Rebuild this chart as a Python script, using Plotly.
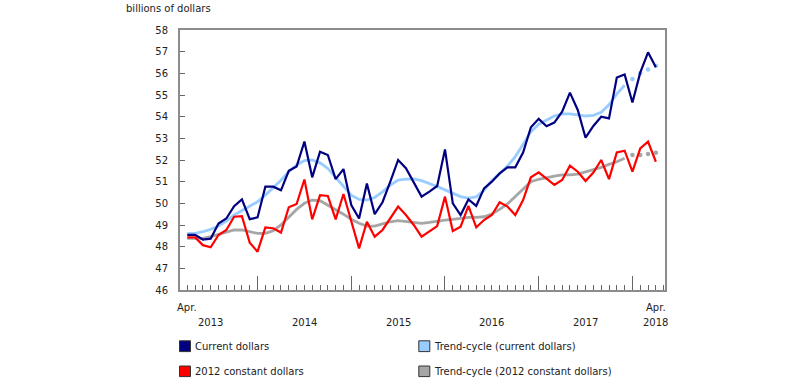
import plotly.graph_objects as go

# ---- data (monthly, Apr 2013 .. Apr 2018) ----
months = [f"{2013 + (m + 3) // 12}-{(m + 3) % 12 + 1:02d}" for m in range(61)]

current = [48.54, 48.55, 48.33, 48.37, 49.07, 49.30, 49.87, 50.18, 49.27, 49.35,
           50.77, 50.77, 50.60, 51.50, 51.70, 52.85, 51.20, 52.38, 52.23, 51.12,
           51.58, 49.92, 49.30, 50.92, 49.50, 50.05, 51.00, 52.00, 51.62, 50.95,
           50.31, 50.54, 50.80, 52.49, 50.00, 49.46, 50.18, 49.88, 50.69, 51.00,
           51.38, 51.66, 51.66, 52.34, 53.51, 53.90, 53.56, 53.73, 54.23, 55.11,
           54.31, 53.03, 53.57, 54.00, 53.92, 55.81, 55.95, 54.65, 56.03, 56.97, 56.28]

constant = [48.43, 48.43, 48.07, 47.97, 48.54, 48.77, 49.38, 49.41, 48.18, 47.77,
            48.89, 48.85, 48.65, 49.82, 49.97, 51.10, 49.26, 50.38, 50.34, 49.26,
            50.43, 49.15, 47.92, 49.15, 48.46, 48.77, 49.30, 49.85, 49.46, 49.00,
            48.46, 48.70, 48.95, 50.31, 48.72, 48.92, 49.88, 48.89, 49.23, 49.46,
            50.05, 49.85, 49.46, 50.15, 51.20, 51.43, 51.15, 50.85, 51.08, 51.74,
            51.46, 51.03, 51.42, 52.00, 51.12, 52.35, 52.43, 51.46, 52.54, 52.85, 51.92]

trend_current = [48.61, 48.61, 48.69, 48.80, 48.95, 49.18, 49.46, 49.66, 49.85, 50.07,
                 50.38, 50.72, 51.07, 51.46, 51.77, 51.97, 52.00, 51.87, 51.61, 51.20,
                 50.77, 50.38, 50.18, 50.15, 50.27, 50.53, 50.84, 51.07, 51.12, 51.13,
                 51.05, 50.92, 50.78, 50.62, 50.45, 50.31, 50.24, 50.30, 50.60, 51.05,
                 51.38, 51.72, 52.15, 52.75, 53.30, 53.65, 53.85, 54.03, 54.13, 54.13,
                 54.08, 54.03, 54.06, 54.20, 54.55, 55.05, 55.45, 55.74, 56.00, 56.18, 56.35]

trend_constant = [48.38, 48.37, 48.38, 48.46, 48.57, 48.69, 48.77, 48.77, 48.69, 48.61,
                  48.61, 48.74, 49.00, 49.38, 49.72, 50.00, 50.15, 50.12, 49.92, 49.69,
                  49.50, 49.26, 49.08, 48.95, 48.95, 49.05, 49.15, 49.20, 49.15, 49.10,
                  49.08, 49.12, 49.18, 49.22, 49.26, 49.31, 49.35, 49.35, 49.38, 49.51,
                  49.72, 49.97, 50.31, 50.69, 51.00, 51.11, 51.20, 51.26, 51.31, 51.31,
                  51.35, 51.46, 51.54, 51.66, 51.80, 51.92, 52.08, 52.23, 52.23, 52.28, 52.34]

n_final = 57          # trend-cycle points from here on are shown dotted
year_labels = ["2013", "2014", "2015", "2016", "2017", "2018"]
year_pos = [3, 15, 27, 39, 51, 60]
jan_idx = [9, 21, 33, 45, 57]

series_names = ["Current dollars", "Trend-cycle (current dollars)",
                "2012 constant dollars", "Trend-cycle (2012 constant dollars)"]

C_NAVY = "#000080"
C_RED = "#FF0000"
C_LBLUE = "#99CCFF"
C_GREY = "#A6A6A6"
FONT = "DejaVu Sans"
TXT = "#222222"

x = list(range(len(months)))

fig = go.Figure()
# trend-cycle (solid part + dotted tail)
fig.add_trace(go.Scatter(x=x[:n_final], y=trend_constant[:n_final], mode="lines",
                         line=dict(color=C_GREY, width=2.8), showlegend=False))
fig.add_trace(go.Scatter(x=x[n_final:], y=trend_constant[n_final:], mode="markers",
                         marker=dict(color=C_GREY, size=4.5), showlegend=False))
fig.add_trace(go.Scatter(x=x[:n_final], y=trend_current[:n_final], mode="lines",
                         line=dict(color=C_LBLUE, width=2.8), showlegend=False))
fig.add_trace(go.Scatter(x=x[n_final:], y=trend_current[n_final:], mode="markers",
                         marker=dict(color=C_LBLUE, size=4.5), showlegend=False))
fig.add_trace(go.Scatter(x=x, y=constant, mode="lines",
                         line=dict(color=C_RED, width=2.2), showlegend=False))
fig.add_trace(go.Scatter(x=x, y=current, mode="lines",
                         line=dict(color=C_NAVY, width=2.2), showlegend=False))

# plot area in pixels: left 180, right 665, top 30, bottom 290
L, R, T, B = 180, 665, 30, 290
def px(xp):
    return (xp - L) / (R - L)
def py(yp):
    return (B - yp) / (B - T)

annotations = []
# x labels
for xi in (0, 60):
    annotations.append(dict(x=xi, y=py(307), xref="x", yref="paper", text="Apr.",
                            showarrow=False, xanchor="center", yanchor="middle",
                            font=dict(family=FONT, size=10, color=TXT)))
for lab, pos in zip(year_labels, year_pos):
    annotations.append(dict(x=pos, y=py(322), xref="x", yref="paper", text=lab,
                            showarrow=False, xanchor="center", yanchor="middle",
                            font=dict(family=FONT, size=10, color=TXT)))
# y title
annotations.append(dict(x=px(124), y=py(8), xref="paper", yref="paper",
                        text="billions of dollars", showarrow=False,
                        xanchor="left", yanchor="middle",
                        font=dict(family=FONT, size=10, color=TXT)))

# legend (manual, 2 x 2)
legend_cols = [C_NAVY, C_LBLUE, C_RED, C_GREY]
sw_x = [(179.5, 190.5), (418.8, 429.8)]
sw_y = [(340.8, 351.6), (366.0, 376.6)]
tx_x = [192.5, 432.0]
shapes = []
for k, (name, col) in enumerate(zip(series_names, legend_cols)):
    r, c = divmod(k, 2)
    shapes.append(dict(type="rect", xref="paper", yref="paper",
                       x0=px(sw_x[c][0]), x1=px(sw_x[c][1]),
                       y0=py(sw_y[r][1]), y1=py(sw_y[r][0]),
                       fillcolor=col, line=dict(color="#333333", width=1)))
    annotations.append(dict(x=px(tx_x[c]), y=py((sw_y[r][0] + sw_y[r][1]) / 2),
                            xref="paper", yref="paper", text=name, showarrow=False,
                            xanchor="left", yanchor="middle",
                            font=dict(family=FONT, size=10, color=TXT)))

AX = "#8C8C8C"
fig.update_layout(
    width=810, height=385,
    margin=dict(l=L, r=810 - R, t=T, b=385 - B),
    paper_bgcolor="white", plot_bgcolor="white",
    showlegend=False,
    annotations=annotations, shapes=shapes,
    xaxis=dict(range=[-0.93, 61.17], showgrid=False, zeroline=False,
               showline=True, linecolor=AX, linewidth=2, mirror=True,
               tickvals=jan_idx, ticks="inside", ticklen=14, tickcolor="#666666",
               tickwidth=1, showticklabels=False,
               minor=dict(dtick=1, tick0=0, ticks="inside", ticklen=5,
                          tickcolor="#666666", tickwidth=1, showgrid=False)),
    yaxis=dict(range=[46, 58], dtick=1, showgrid=False, zeroline=False,
               showline=True, linecolor=AX, linewidth=2, mirror=True,
               ticks="inside", ticklen=5, tickcolor="#666666", tickwidth=1,
               ticklabelstandoff=8,
               tickfont=dict(family=FONT, size=10, color=TXT)),
)

fig.write_html("out.html",
               config={"displayModeBar": False},
               post_script="document.body.style.margin='0px';"
                           "document.body.style.overflow='hidden';")
